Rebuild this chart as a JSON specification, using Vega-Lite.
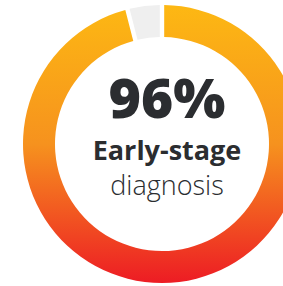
{
  "$schema": "https://vega.github.io/schema/vega-lite/v6.json",
  "width": 324,
  "height": 288,
  "padding": 0,
  "autosize": "none",
  "background": "white",
  "config": {"view": {"stroke": null}},
  "layer": [
    {
      "data": {"values": [{"part": "early", "value": 96}, {"part": "other", "value": 4}]},
      "mark": {"type": "arc", "innerRadius": 107, "outerRadius": 139, "padAngle": 0.025},
      "encoding": {
        "theta": {"field": "value", "type": "quantitative", "stack": true},
        "order": {"field": "part", "sort": "ascending"},
        "fill": {
          "condition": {
            "test": "datum.part === 'early'",
            "value": {
              "gradient": "linear", "x1": 0, "y1": 0, "x2": 0, "y2": 1,
              "stops": [
                {"offset": 0, "color": "#FDB813"},
                {"offset": 0.5, "color": "#F6921E"},
                {"offset": 1, "color": "#ED1C24"}
              ]
            }
          },
          "value": "#EFEFEF"
        }
      }
    },
    {
      "data": {"values": [{"label": "96%"}]},
      "mark": {"type": "text", "font": "Open Sans ExtraBold, Open Sans", "fontWeight": 800, "fontSize": 55, "color": "#2B2D30", "baseline": "alphabetic", "align": "center", "dx": 5, "dy": -26},
      "encoding": {"text": {"field": "label"}}
    },
    {
      "data": {"values": [{"label": "Early-stage"}]},
      "mark": {"type": "text", "font": "Open Sans", "fontWeight": 700, "fontSize": 27, "color": "#2B2D30", "baseline": "alphabetic", "align": "center", "dx": 5, "dy": 16},
      "encoding": {"text": {"field": "label"}}
    },
    {
      "data": {"values": [{"label": "diagnosis"}]},
      "mark": {"type": "text", "font": "Open Sans", "fontWeight": 300, "fontSize": 27, "color": "#2B2D30", "baseline": "alphabetic", "align": "center", "dx": 5, "dy": 51},
      "encoding": {"text": {"field": "label"}}
    }
  ]
}
